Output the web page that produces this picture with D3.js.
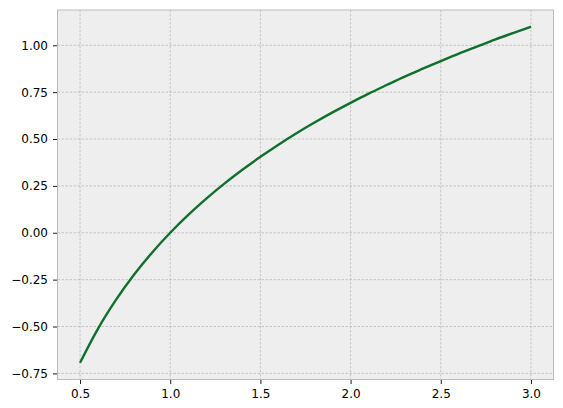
<!DOCTYPE html>
<html><head><meta charset="utf-8">
<script src="https://cdn.jsdelivr.net/npm/d3@7/dist/d3.min.js"></script>
<style>
body{margin:0;background:#fff;}
svg text{font-family:"DejaVu Sans",sans-serif;font-size:12px;fill:#000;}
</style></head>
<body><svg id="c" width="563" height="408"></svg>
<script>
const xValues = [0.5,0.6,0.7,0.8,0.9,1.0,1.1,1.2,1.3,1.4,1.5,1.6,1.7,1.8,1.9,2.0,2.1,2.2,2.3,2.4,2.5,2.6,2.7,2.8,2.9,3.0];
const yValues = [-0.693,-0.511,-0.357,-0.223,-0.105,0.000,0.095,0.182,0.262,0.336,0.405,0.470,0.531,0.588,0.642,0.693,0.742,0.788,0.833,0.875,0.916,0.956,0.993,1.030,1.065,1.099];
const xTicks = [0.5,1.0,1.5,2.0,2.5,3.0];
const yTicks = [-0.75,-0.50,-0.25,0.00,0.25,0.50,0.75,1.00];

const L=57.5, R=553.5, T=10, B=379.5;
const svg = d3.select("#c");
const x = d3.scaleLinear().domain([0.375,3.125]).range([L,R]);
const y = d3.scaleLinear().domain([-0.7826,1.1882]).range([B,T]);

svg.append("rect").attr("x",L).attr("y",T).attr("width",R-L).attr("height",B-T).attr("fill","#eeeeee");

// grid
const g = svg.append("g");
g.selectAll("line.vx").data(xTicks).join("line")
  .attr("x1",d=>x(d)).attr("x2",d=>x(d)).attr("y1",T).attr("y2",B)
  .attr("stroke","#b2b2b2").attr("stroke-width",0.7).attr("stroke-dasharray","2.5,1.5");
g.selectAll("line.hy").data(yTicks).join("line")
  .attr("y1",d=>y(d)).attr("y2",d=>y(d)).attr("x1",L).attr("x2",R)
  .attr("stroke","#b2b2b2").attr("stroke-width",0.7).attr("stroke-dasharray","2.5,1.5");

// axes
const fmtY = d=>d3.format(".2f")(d).replace("-","\u2212");
const xa = svg.append("g").attr("transform",`translate(0,${B})`)
  .call(d3.axisBottom(x).tickValues(xTicks).tickFormat(d3.format(".1f")).tickSize(4.5).tickPadding(5));
const ya = svg.append("g").attr("transform",`translate(${L},0)`)
  .call(d3.axisLeft(y).tickValues(yTicks).tickFormat(fmtY).tickSize(4.5).tickPadding(5));
[xa,ya].forEach(a=>{a.select(".domain").remove(); a.selectAll("line").attr("stroke","#000").attr("stroke-width",0.9); a.selectAll("text").attr("font-size",12).attr("font-family","DejaVu Sans");});

// spines
svg.append("rect").attr("x",L).attr("y",T).attr("width",R-L).attr("height",B-T)
  .attr("fill","none").attr("stroke","#bcbcbc").attr("stroke-width",1);

const pts = xValues.map((v,i)=>[v,yValues[i]]);
svg.append("path").datum(pts)
  .attr("d",d3.line().x(d=>x(d[0])).y(d=>y(d[1])).curve(d3.curveMonotoneX))
  .attr("fill","none").attr("stroke","#0f702b").attr("stroke-width",2.4);
</script></body></html>
